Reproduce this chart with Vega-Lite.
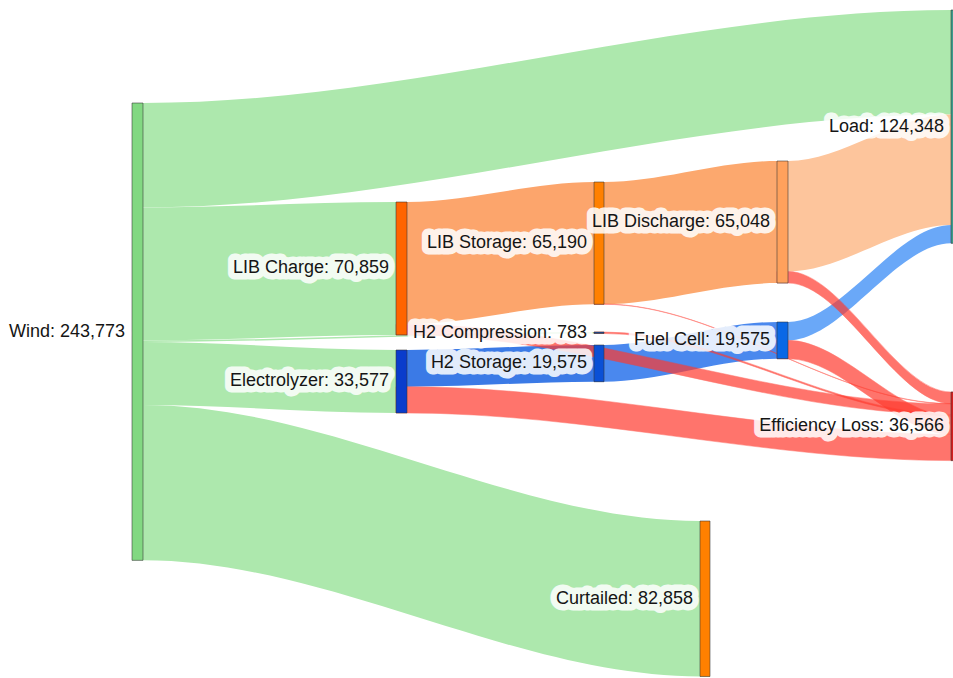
{
  "$schema": "https://vega.github.io/schema/vega-lite/v6.json",
  "width": 953,
  "height": 678,
  "autosize": {"type": "fit", "contains": "padding"},
  "padding": 0,
  "background": "white",
  "config": {"view": {"stroke": null}},
  "datasets": {
    "nodes": [
      {"node": "Wind", "label": "Wind: 243,773", "x0": 132, "x1": 143, "ytop": 54900, "ybot": 298673, "ymid": 176786.5},
      {"node": "LIB Charge", "label": "LIB Charge: 70,859", "x0": 396, "x1": 407, "ytop": 107666, "ybot": 178525, "ymid": 143095.5},
      {"node": "Electrolyzer", "label": "Electrolyzer: 33,577", "x0": 396, "x1": 407, "ytop": 186550, "ybot": 220127, "ymid": 203338.5},
      {"node": "LIB Storage", "label": "LIB Storage: 65,190", "x0": 594, "x1": 604, "ytop": 97006, "ybot": 162196, "ymid": 129601},
      {"node": "H2 Compression", "label": "H2 Compression: 783", "x0": 594, "x1": 604, "ytop": 176956, "ybot": 177739, "ymid": 177347.5},
      {"node": "H2 Storage", "label": "H2 Storage: 19,575", "x0": 594, "x1": 604, "ytop": 183885, "ybot": 203460, "ymid": 193672.5},
      {"node": "LIB Discharge", "label": "LIB Discharge: 65,048", "x0": 777, "x1": 788, "ytop": 85813, "ybot": 150861, "ymid": 118337},
      {"node": "Fuel Cell", "label": "Fuel Cell: 19,575", "x0": 777, "x1": 788, "ytop": 171626, "ybot": 191201, "ymid": 181413.5},
      {"node": "Curtailed", "label": "Curtailed: 82,858", "x0": 700, "x1": 710, "ytop": 277693, "ybot": 360551, "ymid": 319122},
      {"node": "Load", "label": "Load: 124,348", "x0": 951, "x1": 962, "ytop": 5330, "ybot": 129678, "ymid": 67504},
      {"node": "Efficiency Loss", "label": "Efficiency Loss: 36,566", "x0": 951, "x1": 962, "ytop": 208936, "ybot": 245502, "ymid": 227219}
    ],
    "links": [
      {"link": "Wind-Load", "kind": "wind", "x": 132, "top": 54900, "bottom": 110596},
      {"link": "Wind-Load", "kind": "wind", "x": 143, "top": 54900, "bottom": 110596},
      {"link": "Wind-Load", "kind": "wind", "x": 951, "top": 5330, "bottom": 61026},
      {"link": "Wind-Load", "kind": "wind", "x": 962, "top": 5330, "bottom": 61026},

      {"link": "Wind-LIBC", "kind": "wind", "x": 132, "top": 110596, "bottom": 181455},
      {"link": "Wind-LIBC", "kind": "wind", "x": 143, "top": 110596, "bottom": 181455},
      {"link": "Wind-LIBC", "kind": "wind", "x": 396, "top": 107666, "bottom": 178525},
      {"link": "Wind-LIBC", "kind": "wind", "x": 407, "top": 107666, "bottom": 178525},

      {"link": "Wind-H2C", "kind": "wind", "x": 132, "top": 181455, "bottom": 182238},
      {"link": "Wind-H2C", "kind": "wind", "x": 143, "top": 181455, "bottom": 182238},
      {"link": "Wind-H2C", "kind": "wind", "x": 594, "top": 176956, "bottom": 177739},
      {"link": "Wind-H2C", "kind": "wind", "x": 604, "top": 176956, "bottom": 177739},

      {"link": "Wind-Elec", "kind": "wind", "x": 132, "top": 182238, "bottom": 215815},
      {"link": "Wind-Elec", "kind": "wind", "x": 143, "top": 182238, "bottom": 215815},
      {"link": "Wind-Elec", "kind": "wind", "x": 396, "top": 186550, "bottom": 220127},
      {"link": "Wind-Elec", "kind": "wind", "x": 407, "top": 186550, "bottom": 220127},

      {"link": "Wind-Curt", "kind": "wind", "x": 132, "top": 215815, "bottom": 298673},
      {"link": "Wind-Curt", "kind": "wind", "x": 143, "top": 215815, "bottom": 298673},
      {"link": "Wind-Curt", "kind": "wind", "x": 700, "top": 277693, "bottom": 360551},
      {"link": "Wind-Curt", "kind": "wind", "x": 710, "top": 277693, "bottom": 360551},

      {"link": "LIBC-LIBS", "kind": "libc", "x": 396, "top": 107666, "bottom": 172856},
      {"link": "LIBC-LIBS", "kind": "libc", "x": 407, "top": 107666, "bottom": 172856},
      {"link": "LIBC-LIBS", "kind": "libc", "x": 594, "top": 97006, "bottom": 162196},
      {"link": "LIBC-LIBS", "kind": "libc", "x": 604, "top": 97006, "bottom": 162196},

      {"link": "LIBS-LIBD", "kind": "libs", "x": 594, "top": 97006, "bottom": 162054},
      {"link": "LIBS-LIBD", "kind": "libs", "x": 604, "top": 97006, "bottom": 162054},
      {"link": "LIBS-LIBD", "kind": "libs", "x": 777, "top": 85813, "bottom": 150861},
      {"link": "LIBS-LIBD", "kind": "libs", "x": 788, "top": 85813, "bottom": 150861},

      {"link": "LIBD-Load", "kind": "libd", "x": 777, "top": 85813, "bottom": 144677},
      {"link": "LIBD-Load", "kind": "libd", "x": 788, "top": 85813, "bottom": 144677},
      {"link": "LIBD-Load", "kind": "libd", "x": 951, "top": 61026, "bottom": 119890},
      {"link": "LIBD-Load", "kind": "libd", "x": 962, "top": 61026, "bottom": 119890},

      {"link": "Elec-H2S", "kind": "elec", "x": 396, "top": 186550, "bottom": 206125},
      {"link": "Elec-H2S", "kind": "elec", "x": 407, "top": 186550, "bottom": 206125},
      {"link": "Elec-H2S", "kind": "elec", "x": 594, "top": 183885, "bottom": 203460},
      {"link": "Elec-H2S", "kind": "elec", "x": 604, "top": 183885, "bottom": 203460},

      {"link": "H2S-FC", "kind": "h2s", "x": 594, "top": 183885, "bottom": 203460},
      {"link": "H2S-FC", "kind": "h2s", "x": 604, "top": 183885, "bottom": 203460},
      {"link": "H2S-FC", "kind": "h2s", "x": 777, "top": 171626, "bottom": 191201},
      {"link": "H2S-FC", "kind": "h2s", "x": 788, "top": 171626, "bottom": 191201},

      {"link": "FC-Load", "kind": "fc", "x": 777, "top": 171626, "bottom": 181414},
      {"link": "FC-Load", "kind": "fc", "x": 788, "top": 171626, "bottom": 181414},
      {"link": "FC-Load", "kind": "fc", "x": 951, "top": 119890, "bottom": 129678},
      {"link": "FC-Load", "kind": "fc", "x": 962, "top": 119890, "bottom": 129678},

      {"link": "LIBD-Loss", "kind": "loss", "x": 777, "top": 144677, "bottom": 150861},
      {"link": "LIBD-Loss", "kind": "loss", "x": 788, "top": 144677, "bottom": 150861},
      {"link": "LIBD-Loss", "kind": "loss", "x": 951, "top": 208936, "bottom": 215120},
      {"link": "LIBD-Loss", "kind": "loss", "x": 962, "top": 208936, "bottom": 215120},

      {"link": "LIBS-Loss", "kind": "loss", "x": 594, "top": 162054, "bottom": 162196},
      {"link": "LIBS-Loss", "kind": "loss", "x": 604, "top": 162054, "bottom": 162196},
      {"link": "LIBS-Loss", "kind": "loss", "x": 951, "top": 215120, "bottom": 215262},
      {"link": "LIBS-Loss", "kind": "loss", "x": 962, "top": 215120, "bottom": 215262},

      {"link": "LIBC-Loss", "kind": "loss", "x": 396, "top": 172856, "bottom": 178525},
      {"link": "LIBC-Loss", "kind": "loss", "x": 407, "top": 172856, "bottom": 178525},
      {"link": "LIBC-Loss", "kind": "loss", "x": 951, "top": 215262, "bottom": 220931},
      {"link": "LIBC-Loss", "kind": "loss", "x": 962, "top": 215262, "bottom": 220931},

      {"link": "H2C-Loss", "kind": "loss", "x": 594, "top": 176956, "bottom": 177739},
      {"link": "H2C-Loss", "kind": "loss", "x": 604, "top": 176956, "bottom": 177739},
      {"link": "H2C-Loss", "kind": "loss", "x": 951, "top": 220931, "bottom": 221714},
      {"link": "H2C-Loss", "kind": "loss", "x": 962, "top": 220931, "bottom": 221714},

      {"link": "FC-Loss", "kind": "loss", "x": 777, "top": 181414, "bottom": 191201},
      {"link": "FC-Loss", "kind": "loss", "x": 788, "top": 181414, "bottom": 191201},
      {"link": "FC-Loss", "kind": "loss", "x": 951, "top": 221714, "bottom": 231501},
      {"link": "FC-Loss", "kind": "loss", "x": 962, "top": 221714, "bottom": 231501},

      {"link": "Elec-Loss", "kind": "loss", "x": 396, "top": 206125, "bottom": 220127},
      {"link": "Elec-Loss", "kind": "loss", "x": 407, "top": 206125, "bottom": 220127},
      {"link": "Elec-Loss", "kind": "loss", "x": 951, "top": 231501, "bottom": 245503},
      {"link": "Elec-Loss", "kind": "loss", "x": 962, "top": 231501, "bottom": 245503}
    ]
  },
  "resolve": {"scale": {"color": "independent"}},
  "layer": [
    {
      "data": {"name": "links"},
      "transform": [{"filter": "datum.kind !== 'loss'"}],
      "mark": {"type": "area", "interpolate": "monotone", "clip": true},
      "encoding": {
        "x": {"field": "x", "type": "quantitative", "scale": {"domain": [0, 953]}, "axis": null},
        "y": {"field": "top", "type": "quantitative", "stack": null, "scale": {"domain": [0, 361374], "reverse": true}, "axis": null},
        "y2": {"field": "bottom"},
        "detail": {"field": "link"},
        "color": {
          "field": "kind", "type": "nominal", "legend": null,
          "scale": {
            "domain": ["wind", "libc", "libs", "libd", "elec", "h2s", "fc"],
            "range": ["#ade8ad", "#fca56c", "#fca86e", "#fdc59c", "#3b7ae6", "#4a88ee", "#6aa8f8"]
          }
        }
      }
    },
    {
      "data": {"name": "links"},
      "transform": [{"filter": "datum.kind === 'loss'"}],
      "mark": {"type": "area", "interpolate": "monotone", "clip": true, "color": "#ff3a2e", "opacity": 0.7, "stroke": "#ff3a2e", "strokeWidth": 0.5},
      "encoding": {
        "x": {"field": "x", "type": "quantitative", "scale": {"domain": [0, 953]}, "axis": null},
        "y": {"field": "top", "type": "quantitative", "stack": null, "scale": {"domain": [0, 361374], "reverse": true}, "axis": null},
        "y2": {"field": "bottom"},
        "detail": {"field": "link"}
      }
    },
    {
      "data": {"name": "nodes"},
      "mark": {"type": "rect", "clip": true, "stroke": "#333333", "strokeOpacity": 0.55, "strokeWidth": 1},
      "encoding": {
        "x": {"field": "x0", "type": "quantitative", "scale": {"domain": [0, 953]}, "axis": null},
        "x2": {"field": "x1"},
        "y": {"field": "ytop", "type": "quantitative", "scale": {"domain": [0, 361374], "reverse": true}, "axis": null},
        "y2": {"field": "ybot"},
        "color": {
          "field": "node", "type": "nominal", "legend": null,
          "scale": {
            "domain": ["Wind", "LIB Charge", "Electrolyzer", "LIB Storage", "H2 Compression", "H2 Storage", "LIB Discharge", "Fuel Cell", "Curtailed", "Load", "Efficiency Loss"],
            "range": ["#82d882", "#ff6400", "#0a3ccc", "#ff8000", "#1f4e9e", "#0a50d6", "#ffa15c", "#0a68e6", "#ff8000", "#3c9c8c", "#d42020"]
          }
        }
      }
    },
    {
      "data": {"name": "nodes"},
      "mark": {"type": "text", "align": "right", "baseline": "middle", "dx": -7, "font": "Liberation Sans", "fontSize": 18, "fill": "white", "stroke": "white", "strokeWidth": 13, "strokeJoin": "round", "opacity": 0.85},
      "encoding": {
        "x": {"field": "x0", "type": "quantitative", "scale": {"domain": [0, 953]}, "axis": null},
        "y": {"field": "ymid", "type": "quantitative", "scale": {"domain": [0, 361374], "reverse": true}, "axis": null},
        "text": {"field": "label"}
      }
    },
    {
      "data": {"name": "nodes"},
      "mark": {"type": "text", "align": "right", "baseline": "middle", "dx": -7, "font": "Liberation Sans", "fontSize": 18, "color": "#151515"},
      "encoding": {
        "x": {"field": "x0", "type": "quantitative", "scale": {"domain": [0, 953]}, "axis": null},
        "y": {"field": "ymid", "type": "quantitative", "scale": {"domain": [0, 361374], "reverse": true}, "axis": null},
        "text": {"field": "label"}
      }
    }
  ]
}
